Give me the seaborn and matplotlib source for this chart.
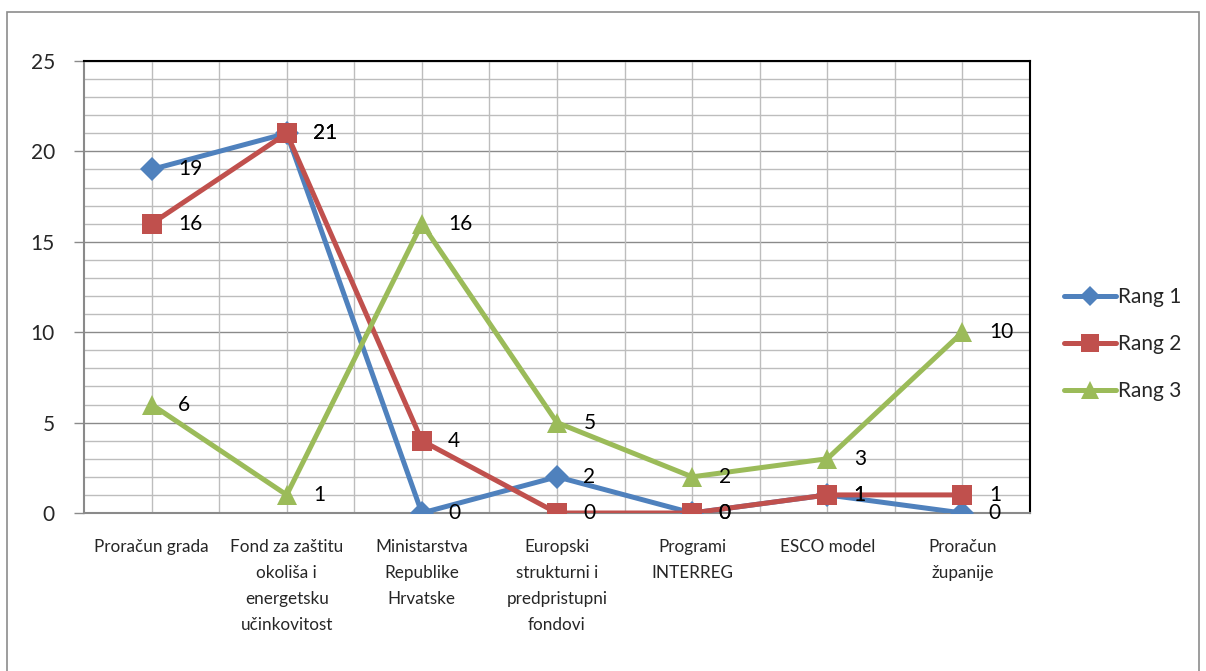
import matplotlib
matplotlib.use("Agg")
import matplotlib.pyplot as plt
import seaborn as sns
import pandas as pd
from matplotlib.patches import Rectangle
from matplotlib.lines import Line2D

categories = [
    "Proračun grada",
    "Fond za zaštitu\nokoliša i\nenergetsku\nučinkovitost",
    "Ministarstva\nRepublike\nHrvatske",
    "Europski\nstrukturni i\npredpristupni\nfondovi",
    "Programi\nINTERREG",
    "ESCO model",
    "Proračun\nžupanije",
]
series_names = ["Rang 1", "Rang 2", "Rang 3"]
rang1 = [19, 21, 0, 2, 0, 1, 0]
rang2 = [16, 21, 4, 0, 0, 1, 1]
rang3 = [6, 1, 16, 5, 2, 3, 10]
y_ticks = [0, 5, 10, 15, 20, 25]

colors = ["#4F81BD", "#C0504D", "#9BBB59"]
markers = ["D", "s", "^"]
marker_sizes = [12.5, 14.5, 14.5]

sns.set_theme(style="white")
plt.rcParams["font.family"] = ["Lato", "DejaVu Sans"]

fig = plt.figure(figsize=(12.06, 6.71), dpi=100)
ax = fig.add_axes([84 / 1206, 1 - 513 / 671, (1030 - 84) / 1206, (513 - 61) / 671])

# chart frame around the whole figure
fig.patches.append(Rectangle((7 / 1206, -0.01), (1199 - 7) / 1206, (671 - 12) / 671 + 0.01,
                             transform=fig.transFigure, fill=False,
                             edgecolor="#8c8c8c", linewidth=1.2))

n = len(categories)
xs = list(range(n))
df = pd.DataFrame({
    "x": xs * 3,
    "value": rang1 + rang2 + rang3,
    "series": [s for s in series_names for _ in xs],
})

for name, col, mk, ms in zip(series_names, colors, markers, marker_sizes):
    sub = df[df["series"] == name]
    sns.lineplot(data=sub, x="x", y="value", ax=ax, color=col, linewidth=3.6,
                 marker=mk, markersize=ms, markeredgewidth=0, legend=False, zorder=3)
    for xv, yv in zip(sub["x"], sub["value"]):
        ax.annotate(str(yv), (xv, yv), xytext=(19, 0), textcoords="offset points",
                    ha="left", va="center", fontsize=15, color="black", zorder=4)

ax.set_xlim(-0.5, n - 0.5)
ax.set_ylim(0, 25)

# gridlines: horizontal every unit, vertical at every half category
for yv in range(1, 26):
    ax.axhline(yv, color="#8a8a8a" if yv % 5 == 0 else "#bdbdbd",
               linewidth=1.0, zorder=1)
for k in range(1, 2 * n):
    ax.axvline(-0.5 + k * 0.5, color="#bdbdbd", linewidth=1.0, zorder=1)

ax.set_yticks(y_ticks)
ax.set_yticklabels([str(v) for v in y_ticks], fontsize=15)
ax.set_xticks([i - 0.5 for i in range(n + 1)])
ax.set_xticklabels([""] * (n + 1))
ax.set_xticks(xs, minor=True)
ax.set_xticklabels(categories, minor=True, fontsize=12.3, linespacing=1.75, va="top")
ax.tick_params(axis="x", which="major", length=6, width=1, color="#8a8a8a", direction="out")
ax.tick_params(axis="x", which="minor", length=0, pad=19)
ax.tick_params(axis="y", which="major", length=7, width=1, color="#8a8a8a",
               direction="out", pad=14, left=True)
ax.set_xlabel("")
ax.set_ylabel("")

for side in ["top", "right"]:
    ax.spines[side].set_color("black")
    ax.spines[side].set_linewidth(1.5)
for side in ["left", "bottom"]:
    ax.spines[side].set_color("#8a8a8a")
    ax.spines[side].set_linewidth(1.5)

handles = [Line2D([], [], color=c, linewidth=3.6, marker=m, markersize=s * 0.85,
                  markeredgewidth=0) for c, m, s in zip(colors, markers, marker_sizes)]
fig.legend(handles, series_names, loc="center left",
           bbox_to_anchor=(1045 / 1206, 1 - 344 / 671), frameon=False,
           fontsize=15, handlelength=2.5, handletextpad=0.1, labelspacing=1.3)

fig.savefig("out.png", dpi=100)
